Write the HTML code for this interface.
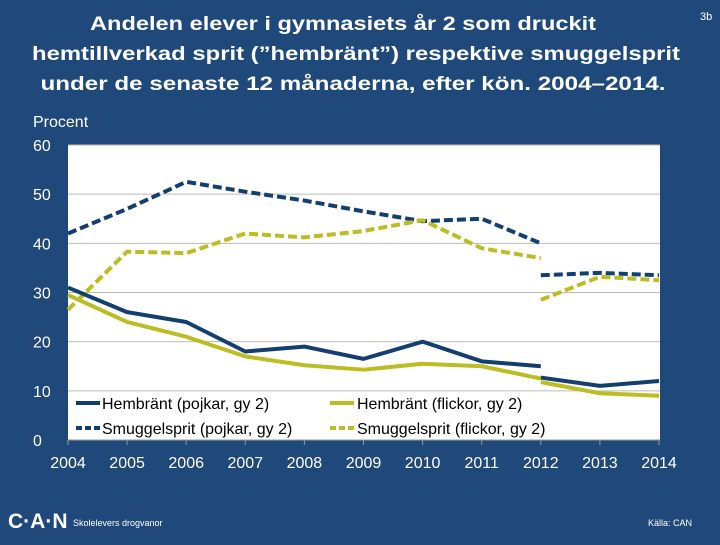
<!DOCTYPE html>
<html><head><meta charset="utf-8"><style>
body{margin:0;width:720px;height:540px;background:#20497b;overflow:hidden;font-family:"Liberation Sans",sans-serif}
</style></head><body>
<svg width="720" height="540" font-family="Liberation Sans, sans-serif">
<text fill="#fff" font-size="19.5" font-weight="bold" text-anchor="middle"><tspan x="343" y="30" textLength="506" lengthAdjust="spacingAndGlyphs">Andelen elever i gymnasiets år 2 som druckit</tspan><tspan x="356" y="60" textLength="648" lengthAdjust="spacingAndGlyphs">hemtillverkad sprit (”hembränt”) respektive smuggelsprit</tspan><tspan x="353" y="90" textLength="625" lengthAdjust="spacingAndGlyphs">under de senaste 12 månaderna, efter kön. 2004–2014.</tspan></text>
<text x="700" y="20" fill="#fff" font-size="11">3b</text>
<text x="33" y="127" fill="#fff" font-size="16">Procent</text>
<rect x="68" y="145" width="592" height="295" fill="#fff"/>
<g id="grid"></g><g id="lines"></g><g id="ticks"></g>
<g font-size="16" fill="#000">
<line x1="76" y1="403" x2="100" y2="403" stroke="#123f70" stroke-width="4"/><text x="102" y="409">Hembränt (pojkar, gy 2)</text>
<line x1="330" y1="403" x2="354" y2="403" stroke="#bcbc23" stroke-width="4"/><text x="357" y="409">Hembränt (flickor, gy 2)</text>
<line x1="76" y1="428" x2="100" y2="428" stroke="#123f70" stroke-width="4" stroke-dasharray="6,3"/><text x="102" y="434">Smuggelsprit (pojkar, gy 2)</text>
<line x1="330" y1="428" x2="354" y2="428" stroke="#bcbc23" stroke-width="4" stroke-dasharray="6,3"/><text x="357" y="434">Smuggelsprit (flickor, gy 2)</text>
</g>
<text x="8" y="528" fill="#fff" font-size="21" font-weight="bold">C·A·N</text>
<text x="73" y="526" fill="#fff" font-size="9">Skolelevers drogvanor</text>
<text x="648" y="526" fill="#fff" font-size="9">Källa: CAN</text>
</svg>
<script>
const years=[2004,2005,2006,2007,2008,2009,2010,2011,2012,2013,2014];
const yTicks=[0,10,20,30,40,50,60];
const hemPojkA=[31,26,24,18,19,16.5,20,16,15];
const hemPojkB=[12.7,11,12];
const hemFlickA=[29.5,24,21,17,15.2,14.3,15.5,15,12.5];
const hemFlickB=[11.8,9.5,9];
const smuPojkA=[42,47,52.5,50.5,48.7,46.5,44.5,45,40];
const smuPojkB=[33.5,34,33.5];
const smuFlickA=[26.5,38.3,38,42,41.2,42.5,44.7,39,37];
const smuFlickB=[28.5,33.2,32.5];
const NS="http://www.w3.org/2000/svg";
const X=i=>68+i*59.1, Y=v=>440-v*4.917;
function mk(t,a,p){const e=document.createElementNS(NS,t);for(const k in a)e.setAttribute(k,a[k]);p.appendChild(e);return e;}
const grid=document.getElementById('grid'),ticks=document.getElementById('ticks'),lines=document.getElementById('lines');
yTicks.forEach(v=>{
 if(v>0){const g=mk('line',{x1:68,x2:660,y1:Y(v),y2:Y(v),stroke:'#bbb','stroke-width':1},grid);
 
 }
 const t=mk('text',{x:33,y:Y(v)+6,fill:'#fff','font-size':16},ticks);t.textContent=v;
 
 
});
mk('line',{x1:68,x2:660,y1:440,y2:440,stroke:'#999'},ticks);
years.forEach((y,i)=>{
 mk('line',{x1:X(i),x2:X(i),y1:440,y2:445,stroke:'#999'},ticks);
 const t=mk('text',{x:X(i),y:468,fill:'#fff','font-size':16,'text-anchor':'middle'},ticks);t.textContent=y;
 
 
});
function draw(arr,off,col,dash,name){
 const d=arr.map((v,i)=>(i?'L':'M')+X(i+off)+','+Y(v)).join(' ');
 const p=mk('path',{d:d,fill:'none',stroke:col,'stroke-width':4,'stroke-linejoin':'round'},lines);
 if(dash)p.setAttribute('stroke-dasharray','9,4');
 
 
}
draw(smuPojkA,0,'#123f70',1,'line-smuggel-pojkar');draw(smuPojkB,8,'#123f70',1,'line-smuggel-pojkar-new');
draw(smuFlickA,0,'#bcbc23',1,'line-smuggel-flickor');draw(smuFlickB,8,'#bcbc23',1,'line-smuggel-flickor-new');
draw(hemFlickA,0,'#bcbc23',0,'line-hembrant-flickor');draw(hemFlickB,8,'#bcbc23',0,'line-hembrant-flickor-new');
draw(hemPojkA,0,'#123f70',0,'line-hembrant-pojkar');draw(hemPojkB,8,'#123f70',0,'line-hembrant-pojkar-new');
</script>
</body></html>
